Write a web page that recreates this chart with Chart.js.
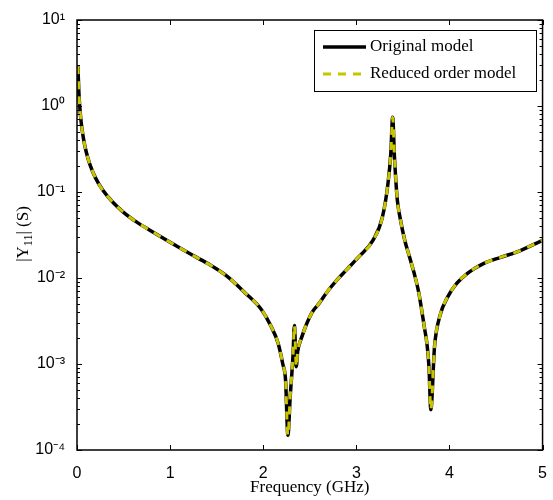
<!DOCTYPE html>
<html>
<head>
<meta charset="utf-8">
<script src="https://cdn.jsdelivr.net/npm/chart.js@4/dist/chart.umd.min.js"></script>
<style>
  html, body { margin: 0; padding: 0; background: #fff; }
  #wrap { width: 553px; height: 500px; }
</style>
</head>
<body>
<div id="wrap"><canvas id="myChart" width="553" height="500"></canvas></div>
<script>
// frequency samples (GHz)
const freqGHz = [0.01, 0.02, 0.035, 0.05, 0.07, 0.1, 0.14, 0.2, 0.28, 0.38, 0.5, 0.65, 0.8, 1.0, 1.2, 1.4,
    1.6, 1.8, 1.98, 2.08, 2.16, 2.21, 2.24, 2.265, 2.29, 2.32, 2.335, 2.355, 2.37, 2.41, 2.52, 2.59,
    2.7, 2.77, 2.9, 3.02, 3.18, 3.28, 3.34, 3.37, 3.39, 3.41, 3.44, 3.47, 3.52, 3.57, 3.62, 3.67,
    3.73, 3.76, 3.78, 3.8, 3.84, 3.9, 3.98, 4.08, 4.2, 4.37, 4.55, 4.72, 5.0];

// |Y11| (S)
const y11Original = [2.9, 1.45, 0.83, 0.58, 0.415, 0.29, 0.207, 0.145, 0.104, 0.077, 0.058, 0.044, 0.035, 0.026, 0.0195, 0.0148,
    0.0107, 0.0068, 0.0043, 0.0028, 0.00174, 0.001, 0.00065, 0.000148, 0.00042, 0.00126, 0.0028, 0.00093, 0.0014, 0.002, 0.0039, 0.0049,
    0.0072, 0.0089, 0.0126, 0.0174, 0.0275, 0.051, 0.126, 0.28, 0.74, 0.25, 0.081, 0.05, 0.0275, 0.0178, 0.0115, 0.0068,
    0.0027, 0.00166, 0.00093, 0.000295, 0.0016, 0.0037, 0.006, 0.0087, 0.0115, 0.0148, 0.0174, 0.02, 0.0275];
const y11Reduced = [2.9, 1.45, 0.83, 0.58, 0.415, 0.29, 0.207, 0.145, 0.104, 0.077, 0.058, 0.044, 0.035, 0.026, 0.0195, 0.0148,
    0.0107, 0.0068, 0.0043, 0.0028, 0.00174, 0.001, 0.00065, 0.000148, 0.00042, 0.00126, 0.0028, 0.00093, 0.0014, 0.002, 0.0039, 0.0049,
    0.0072, 0.0089, 0.0126, 0.0174, 0.0275, 0.051, 0.126, 0.28, 0.74, 0.25, 0.081, 0.05, 0.0275, 0.0178, 0.0115, 0.0068,
    0.0027, 0.00166, 0.00093, 0.000295, 0.0016, 0.0037, 0.006, 0.0087, 0.0115, 0.0148, 0.0174, 0.02, 0.0275];

const seriesNames = ['Original model', 'Reduced order model'];
const xTicks = [0, 1, 2, 3, 4, 5];
const yDecades = [-4, -3, -2, -1, 0, 1];

const sup = { '-': '\u207B', '0': '\u2070', '1': '\u00B9', '2': '\u00B2', '3': '\u00B3', '4': '\u2074' };
function decadeLabel(e) {
    return '10' + String(e).split('').map(c => sup[c]).join('');
}

// all log ticks (decades + minors)
const yTickValues = [];
yDecades.forEach(e => {
    if (e === yDecades[yDecades.length - 1]) { yTickValues.push(Math.pow(10, e)); return; }
    for (let m = 1; m <= 9; m++) yTickValues.push(m * Math.pow(10, e));
});
function isDecade(v) {
    const l = Math.log10(v);
    return Math.abs(l - Math.round(l)) < 1e-9;
}

const toPoints = ys => freqGHz.map((f, i) => ({ x: f, y: ys[i] }));

// box, inward ticks on all four sides
const framePlugin = {
    id: 'frame',
    afterDatasetsDraw(chart) {
        const { ctx, chartArea: a, scales } = chart;
        ctx.save();
        ctx.strokeStyle = '#000';
        ctx.lineWidth = 1.5;
        ctx.strokeRect(a.left, a.top, a.right - a.left, a.bottom - a.top);
        ctx.lineWidth = 1;
        ctx.beginPath();
        xTicks.forEach(v => {
            const px = Math.round(scales.x.getPixelForValue(v)) + 0.5;
            ctx.moveTo(px, a.bottom); ctx.lineTo(px, a.bottom - 5);
            ctx.moveTo(px, a.top); ctx.lineTo(px, a.top + 5);
        });
        yTickValues.forEach(v => {
            const py = Math.round(scales.y.getPixelForValue(v)) + 0.5;
            const len = isDecade(v) ? 5 : 3;
            ctx.moveTo(a.left, py); ctx.lineTo(a.left + len, py);
            ctx.moveTo(a.right, py); ctx.lineTo(a.right - len, py);
        });
        ctx.stroke();
        ctx.restore();
    },
    afterDraw(chart) {
        const { ctx } = chart;
        ctx.save();
        // y axis title with subscript
        ctx.translate(22, 234);
        ctx.rotate(-Math.PI / 2);
        ctx.fillStyle = '#000';
        ctx.textBaseline = 'alphabetic';
        const big = '17px "Liberation Serif"', small = '12px "Liberation Serif"';
        ctx.font = big; const w1 = ctx.measureText('|Y').width; const w3 = ctx.measureText('| (S)').width;
        ctx.font = small; const w2 = ctx.measureText('11').width;
        let x = -(w1 + w2 + w3) / 2;
        ctx.font = big; ctx.fillText('|Y', x, 6); x += w1;
        ctx.font = small; ctx.fillText('11', x, 10); x += w2;
        ctx.font = big; ctx.fillText('| (S)', x, 6);
        ctx.restore();

        // legend
        const ds = chart.data.datasets;
        ctx.save();
        ctx.fillStyle = '#fff';
        ctx.fillRect(314, 30, 222, 61);
        ctx.strokeStyle = '#000';
        ctx.lineWidth = 1;
        ctx.strokeRect(314.5, 30.5, 222, 61);
        ctx.font = '17px "Liberation Serif"';
        ctx.textBaseline = 'middle';
        [47, 74].forEach((ly, i) => {
            ctx.beginPath();
            ctx.strokeStyle = ds[i].borderColor;
            ctx.lineWidth = ds[i].borderWidth;
            ctx.setLineDash(ds[i].borderDash || []);
            ctx.moveTo(323, ly); ctx.lineTo(366, ly);
            ctx.stroke();
            ctx.setLineDash([]);
            ctx.fillStyle = '#000';
            ctx.fillText(ds[i].label, 370, ly);
        });
        ctx.restore();
    }
};

new Chart(document.getElementById('myChart'), {
    type: 'line',
    data: {
        datasets: [
            { label: seriesNames[0], data: toPoints(y11Original), borderColor: '#000000', borderWidth: 3.5,
              pointRadius: 0, cubicInterpolationMode: 'monotone', fill: false, order: 2 },
            { label: seriesNames[1], data: toPoints(y11Reduced), borderColor: '#c9c400', borderWidth: 3,
              borderDash: [8, 7], pointRadius: 0, cubicInterpolationMode: 'monotone', fill: false, order: 1 }
        ]
    },
    options: {
        responsive: false,
        animation: false,
        layout: { padding: { left: 0, right: 7, top: 20, bottom: 0 } },
        plugins: {
            legend: { display: false },
            tooltip: { enabled: false }
        },
        scales: {
            x: {
                type: 'linear',
                min: 0, max: 5,
                grid: { display: false },
                border: { display: false },
                afterBuildTicks: s => { s.ticks = xTicks.map(v => ({ value: v })); },
                afterFit: s => { s.height = 50; },
                ticks: { color: '#000', padding: 6, font: { family: '"Liberation Sans"', size: 16 }, maxRotation: 0 },
                title: { display: true, text: 'Frequency (GHz)', color: '#000',
                         font: { family: '"Liberation Serif"', size: 17 }, padding: { top: 0, bottom: 2 } }
            },
            y: {
                type: 'logarithmic',
                min: 1e-4, max: 10,
                grid: { display: false },
                border: { display: false },
                afterBuildTicks: s => { s.ticks = yTickValues.map(v => ({ value: v })); },
                afterFit: s => { s.width = 77; },
                ticks: {
                    color: '#000', padding: 4, autoSkip: false,
                    font: { family: '"Liberation Sans"', size: 16 },
                    callback: v => isDecade(v) ? decadeLabel(Math.round(Math.log10(v))) : ''
                }
            }
        }
    },
    plugins: [framePlugin]
});
</script>
</body>
</html>
